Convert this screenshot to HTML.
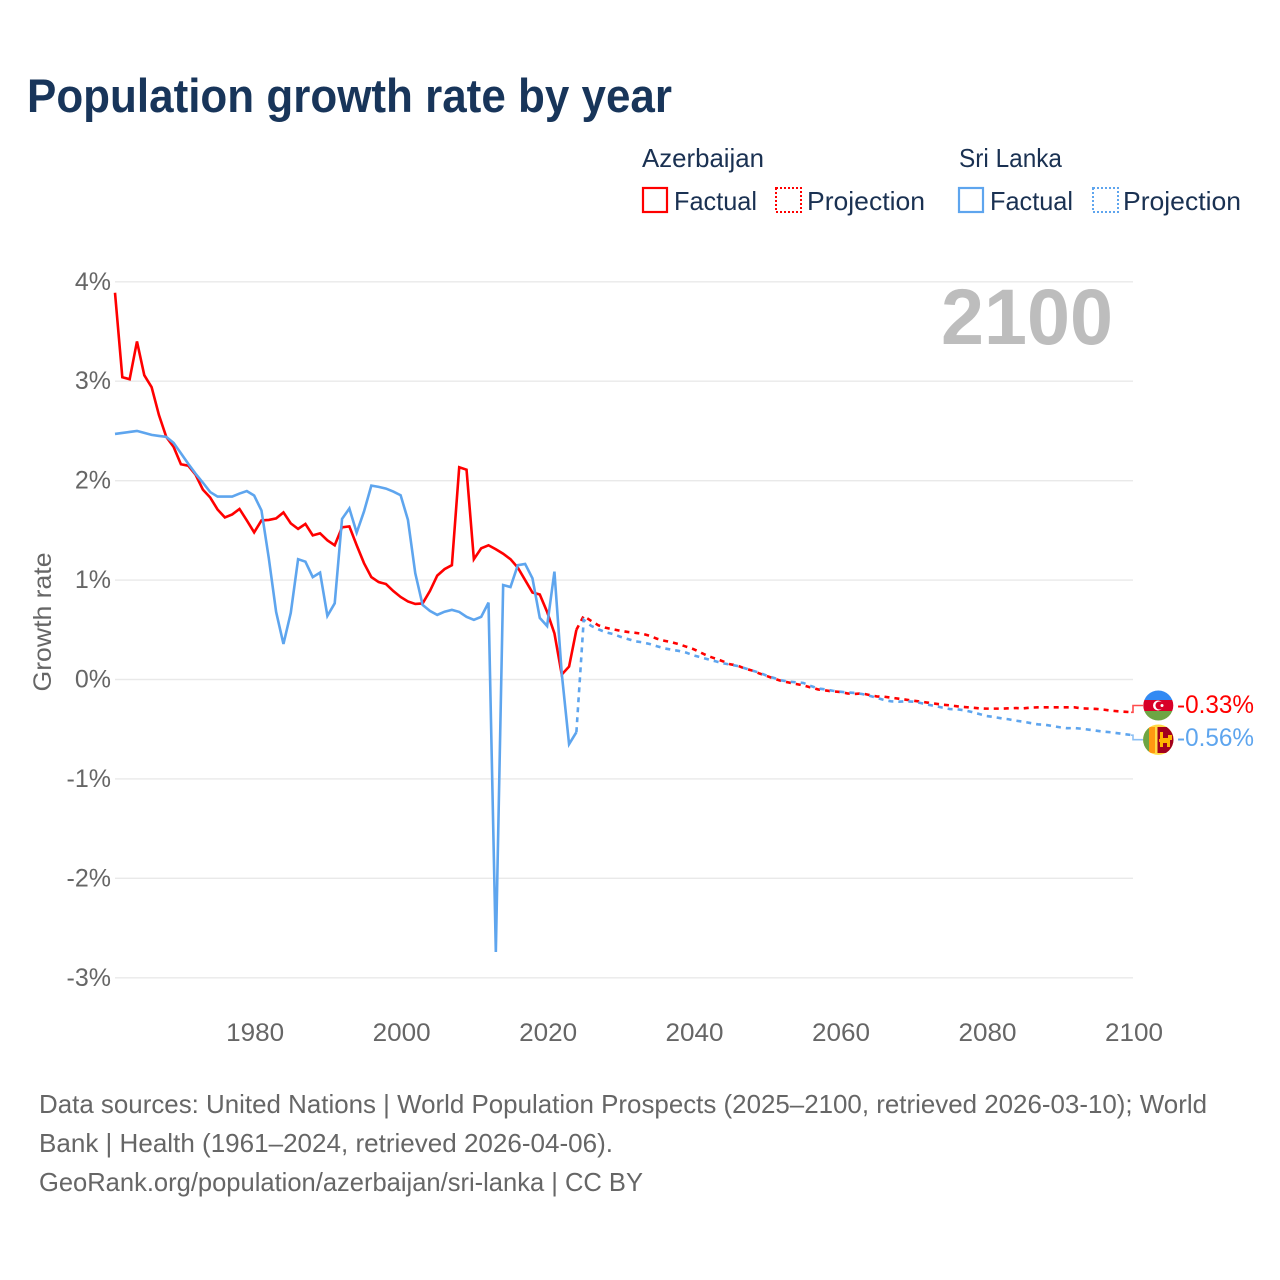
<!DOCTYPE html>
<html lang="en">
<head>
<meta charset="utf-8">
<title>Population growth rate by year</title>
<style>
html,body{margin:0;padding:0;background:#fff;width:1280px;height:1280px;overflow:hidden}
svg{display:block}
text{font-family:"Liberation Sans",sans-serif}
.leg{font-size:26px;fill:#1a3152}
.foot{font-size:26px;fill:#666}
.tick{font-size:25px;fill:#666}
</style>
</head>
<body>
<svg id="chart" xmlns="http://www.w3.org/2000/svg" width="1280" height="1280" viewBox="0 0 1280 1280">
  <rect width="1280" height="1280" fill="#fff"/>
  <text x="27" y="112" font-size="47" font-weight="700" fill="#18355a" textLength="645" lengthAdjust="spacingAndGlyphs">Population growth rate by year</text>

  <g>
    <text class="leg" x="642" y="167" textLength="122" lengthAdjust="spacingAndGlyphs">Azerbaijan</text>
    <text class="leg" x="959" y="167" textLength="103" lengthAdjust="spacingAndGlyphs">Sri Lanka</text>
    <rect x="643" y="188" width="24" height="24" fill="none" stroke="#ff0000" stroke-width="2.2"/>
    <text class="leg" x="674" y="210" textLength="83" lengthAdjust="spacingAndGlyphs">Factual</text>
    <rect x="776" y="188" width="25" height="24" fill="none" stroke="#ff0000" stroke-width="2" stroke-dasharray="2,2"/>
    <text class="leg" x="807" y="210" textLength="118" lengthAdjust="spacingAndGlyphs">Projection</text>
    <rect x="959" y="188" width="24" height="24" fill="none" stroke="#5ea5ee" stroke-width="2.2"/>
    <text class="leg" x="990" y="210" textLength="83" lengthAdjust="spacingAndGlyphs">Factual</text>
    <rect x="1093" y="188" width="25" height="24" fill="none" stroke="#5ea5ee" stroke-width="2" stroke-dasharray="2,2"/>
    <text class="leg" x="1123" y="210" textLength="118" lengthAdjust="spacingAndGlyphs">Projection</text>
  </g>

  <g id="grid"></g>
  <g id="yticks"></g>
  <g id="xticks"></g>
  <text x="0" y="0" transform="translate(51,622) rotate(-90)" text-anchor="middle" font-size="25" fill="#666" textLength="139" lengthAdjust="spacingAndGlyphs">Growth rate</text>
  <text x="1113" y="344" text-anchor="end" font-size="79" font-weight="700" fill="#bdbdbd" textLength="172" lengthAdjust="spacingAndGlyphs">2100</text>
  <g id="series"></g>

  <g>
    <clipPath id="clipAz"><circle cx="1158.3" cy="705.5" r="15"/></clipPath>
    <g clip-path="url(#clipAz)">
      <rect x="1143" y="690" width="31" height="10" fill="#338af3"/>
      <rect x="1143" y="700" width="31" height="11" fill="#d80027"/>
      <rect x="1143" y="711" width="31" height="10" fill="#6da544"/>
      <circle cx="1158" cy="705.5" r="5" fill="#fff"/>
      <circle cx="1159.5" cy="705.5" r="4" fill="#d80027"/>
      <circle cx="1162" cy="705.5" r="1.5" fill="#fff"/>
    </g>
  </g>
  <g>
    <clipPath id="clipLk"><circle cx="1158.3" cy="739.7" r="15.2"/></clipPath>
    <g clip-path="url(#clipLk)">
      <rect x="1143" y="724" width="31" height="32" fill="#ffda44"/>
      <rect x="1143" y="727" width="6" height="26" fill="#6da544"/>
      <rect x="1149" y="727" width="6" height="26" fill="#ff9811"/>
      <rect x="1157.5" y="727" width="16" height="26" fill="#a2001d"/>
      <path d="M1160 732h3v6h5v-3h4v5h-2v7h-3v-4h-4v4h-3v-5h-1v-3h1z" fill="#ffb400"/>
    </g>
  </g>
  <text x="1177" y="713" font-size="25" fill="#ff0000" textLength="77" lengthAdjust="spacingAndGlyphs">-0.33%</text>
  <text x="1177" y="746" font-size="25" fill="#5ea5ee" textLength="77" lengthAdjust="spacingAndGlyphs">-0.56%</text>

  <g>
    <text class="foot" x="39" y="1113" textLength="1168" lengthAdjust="spacingAndGlyphs">Data sources: United Nations | World Population Prospects (2025–2100, retrieved 2026-03-10); World</text>
    <text class="foot" x="39" y="1152" textLength="574" lengthAdjust="spacingAndGlyphs">Bank | Health (1961–2024, retrieved 2026-04-06).</text>
    <a><text class="foot" x="39" y="1191" textLength="604" lengthAdjust="spacingAndGlyphs">GeoRank.org/population/azerbaijan/sri-lanka | CC BY</text></a>
  </g>
</svg>
<script>
const yTickValues = [4, 3, 2, 1, 0, -1, -2, -3];
const xTickYears = [1980, 2000, 2020, 2040, 2060, 2080, 2100];
const factualStartYear = 1961;
const projectionStartYear = 2024;
const azerbaijanFactual = [3.89,3.04,3.02,3.40,3.06,2.94,2.66,2.44,2.34,2.165,2.15,2.06,1.91,1.83,1.71,1.63,1.66,1.715,1.60,1.48,1.60,1.605,1.62,1.68,1.57,1.515,1.565,1.45,1.47,1.40,1.35,1.53,1.54,1.35,1.17,1.03,0.98,0.96,0.89,0.83,0.785,0.76,0.765,0.89,1.045,1.11,1.15,2.135,2.11,1.21,1.32,1.35,1.31,1.265,1.21,1.125,1.0,0.875,0.855,0.68,0.465,0.05,0.13,0.50];
const sriLankaFactual = [2.47,2.48,2.49,2.50,2.48,2.46,2.45,2.44,2.38,2.275,2.17,2.07,1.98,1.885,1.84,1.84,1.84,1.87,1.895,1.85,1.70,1.22,0.68,0.357,0.67,1.21,1.185,1.03,1.075,0.64,0.766,1.615,1.72,1.477,1.69,1.95,1.937,1.92,1.89,1.853,1.605,1.068,0.75,0.69,0.65,0.682,0.70,0.68,0.63,0.60,0.63,0.773,-2.74,0.95,0.93,1.15,1.162,1.018,0.62,0.538,1.085,0.06,-0.65,-0.53];
const azerbaijanProjection = [0.50,0.64,0.59,0.545,0.52,0.505,0.49,0.478,0.47,0.46,0.44,0.41,0.39,0.375,0.355,0.33,0.305,0.27,0.235,0.21,0.183,0.153,0.14,0.11,0.09,0.06,0.035,0.008,-0.015,-0.03,-0.045,-0.06,-0.08,-0.1,-0.11,-0.12,-0.125,-0.14,-0.145,-0.14,-0.156,-0.17,-0.173,-0.183,-0.193,-0.203,-0.213,-0.223,-0.233,-0.243,-0.253,-0.26,-0.27,-0.277,-0.283,-0.29,-0.293,-0.293,-0.293,-0.29,-0.287,-0.29,-0.283,-0.28,-0.28,-0.28,-0.28,-0.28,-0.28,-0.29,-0.293,-0.296,-0.303,-0.313,-0.32,-0.325,-0.33];
const sriLankaProjection = [-0.53,0.60,0.54,0.505,0.475,0.457,0.43,0.407,0.385,0.374,0.357,0.334,0.313,0.30,0.287,0.27,0.243,0.223,0.203,0.183,0.163,0.15,0.136,0.113,0.09,0.068,0.038,0.015,-0.008,-0.022,-0.028,-0.035,-0.065,-0.09,-0.10,-0.113,-0.123,-0.13,-0.135,-0.146,-0.163,-0.183,-0.206,-0.22,-0.223,-0.22,-0.223,-0.236,-0.253,-0.267,-0.283,-0.297,-0.30,-0.31,-0.327,-0.347,-0.367,-0.377,-0.39,-0.40,-0.414,-0.424,-0.438,-0.451,-0.455,-0.468,-0.48,-0.49,-0.488,-0.495,-0.505,-0.515,-0.525,-0.531,-0.541,-0.551,-0.56];

const SVG_NS = 'http://www.w3.org/2000/svg';
const xScale = year => 115 + (year - 1961) * (1133 - 115) / (2100 - 1961);
const yScale = pct => 679.5 - pct * 99.43;

function pathFrom(values, startYear) {
  return values.map((v, i) => (i ? 'L' : 'M') + xScale(startYear + i).toFixed(2) + ' ' + yScale(v).toFixed(2)).join('');
}

const grid = document.getElementById('grid');
const yticks = document.getElementById('yticks');
yTickValues.forEach(v => {
  const line = document.createElementNS(SVG_NS, 'line');
  line.setAttribute('x1', xScale(1961));
  line.setAttribute('x2', xScale(2100));
  line.setAttribute('y1', yScale(v));
  line.setAttribute('y2', yScale(v));
  line.setAttribute('stroke', '#e9e9e9');
  line.setAttribute('stroke-width', '1.4');
  
  
  grid.appendChild(line);
  const label = document.createElementNS(SVG_NS, 'text');
  label.setAttribute('x', 111);
  label.setAttribute('y', yScale(v) + 8);
  label.setAttribute('text-anchor', 'end');
  label.setAttribute('class', 'tick');
  
  
  label.textContent = v + '%';
  yticks.appendChild(label);
});

const xticks = document.getElementById('xticks');
xTickYears.forEach(y => {
  const label = document.createElementNS(SVG_NS, 'text');
  label.setAttribute('x', xScale(y) + 1);
  label.setAttribute('y', 1041);
  label.setAttribute('text-anchor', 'middle');
  label.setAttribute('class', 'tick');
  label.setAttribute('textLength', '58');
  label.setAttribute('lengthAdjust', 'spacingAndGlyphs');
  
  
  label.textContent = y;
  xticks.appendChild(label);
});

const seriesGroup = document.getElementById('series');
function addLine(values, startYear, color, dashed, name) {
  const p = document.createElementNS(SVG_NS, 'path');
  p.setAttribute('d', pathFrom(values, startYear));
  p.setAttribute('fill', 'none');
  p.setAttribute('stroke', color);
  p.setAttribute('stroke-width', '2.6');
  p.setAttribute('stroke-linejoin', 'miter');
  if (dashed) p.setAttribute('stroke-dasharray', '5,5');
  
  
  seriesGroup.appendChild(p);
}
function addConnector(value, flagY, color, name) {
  const xEnd = xScale(2100);
  const c = document.createElementNS(SVG_NS, 'path');
  c.setAttribute('d', 'M' + (xEnd - 2) + ' ' + yScale(value) + 'L' + xEnd + ' ' + yScale(value) + 'L' + xEnd + ' ' + flagY + 'L1143 ' + flagY);
  c.setAttribute('fill', 'none');
  c.setAttribute('stroke', color);
  c.setAttribute('stroke-width', '1.6');
  c.setAttribute('opacity', '0.7');
  
  
  seriesGroup.appendChild(c);
}
addLine(azerbaijanProjection, projectionStartYear, '#ff0000', true, 'line-azerbaijan-projection');
addLine(azerbaijanFactual, factualStartYear, '#ff0000', false, 'line-azerbaijan-factual');
addLine(sriLankaProjection, projectionStartYear, '#5ea5ee', true, 'line-sri-lanka-projection');
addLine(sriLankaFactual, factualStartYear, '#5ea5ee', false, 'line-sri-lanka-factual');
addConnector(azerbaijanProjection[azerbaijanProjection.length - 1], 705.5, '#ff0000', 'connector-azerbaijan');
addConnector(sriLankaProjection[sriLankaProjection.length - 1], 739.7, '#5ea5ee', 'connector-sri-lanka');
</script>
</body>
</html>
